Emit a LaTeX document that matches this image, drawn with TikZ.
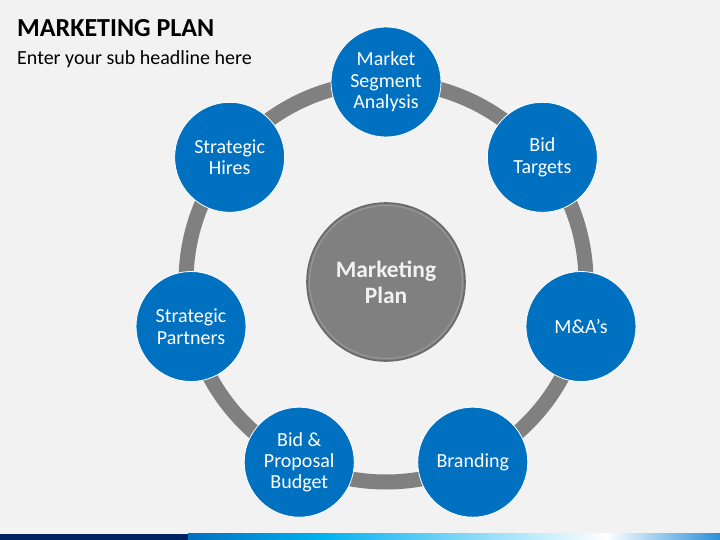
\documentclass[tikz,border=0pt]{standalone}
\usepackage{fontspec}
\setmainfont{Carlito}
\usetikzlibrary{calc}
\definecolor{bg}{HTML}{F2F2F2}
\definecolor{blu}{HTML}{0070C0}
\definecolor{ringc}{HTML}{808080}
\definecolor{hubfill}{HTML}{808080}
\definecolor{hubedge}{HTML}{6A6A6A}
\definecolor{navy}{HTML}{002060}
\definecolor{cyanb}{HTML}{00B0F0}
\definecolor{endblue}{HTML}{2A8ED8}
\begin{document}
\begin{tikzpicture}[x=1pt,y=-1pt,
  item/.style={circle, fill=blu, draw=white, line width=0.8pt, minimum size=110pt, inner sep=0pt,
    text=white, align=center, font=\fontsize{20}{21.4}\selectfont},
  hub/.style={circle, fill=hubfill, draw=hubedge, line width=1.6pt, minimum size=158pt, inner sep=0pt,
    text=bg, align=center, font=\bfseries\fontsize{23.5}{26}\selectfont},
  ringline/.style={draw=ringc, line width=15pt}]
\fill[bg] (0,0) rectangle (720,540);
\useasboundingbox (0,0) rectangle (720,540);
% titles
\node[anchor=base west, inner sep=0pt, font=\bfseries\fontsize{26}{30}\selectfont] (title) at (17,37) {MARKETING PLAN};
\node[anchor=base west, inner sep=0pt, font=\fontsize{20}{24}\selectfont] (sub) at (17,65) {Enter your sub headline here};
% ring
\coordinate (c) at (386,282);
\draw[ringline] (c) circle[radius=200pt];
% items
\node[item] (n1) at ([shift={(90:200pt)}]c) {Market\\Segment\\Analysis};
\node[item] (n2) at ([shift={(38.571:200pt)}]c) {Bid\\Targets};
\node[item] (n3) at ([shift={(-12.857:200pt)}]c) {M\&A’s};
\node[item] (n4) at ([shift={(-64.286:200pt)}]c) {Branding};
\node[item] (n5) at ([shift={(-115.714:200pt)}]c) {Bid \&\\Proposal\\Budget};
\node[item] (n6) at ([shift={(-167.143:200pt)}]c) {Strategic\\Partners};
\node[item] (n7) at ([shift={(141.429:200pt)}]c) {Strategic\\Hires};
% hub
\node[hub] (hub) at (c) {Marketing\\Plan};
\draw[white, opacity=.18, line width=1.2pt] (c) circle[radius=76.5pt];
% bottom bar
\fill[navy] (0,533.5) rectangle (188,540);
\shade[left color=blu, right color=cyanb] (188,533.5) rectangle (320,540);
\shade[left color=cyanb, right color=white] (320,533.5) rectangle (606,540);
\shade[left color=white, right color=endblue] (606,533.5) rectangle (720,540);
\end{tikzpicture}
\end{document}
